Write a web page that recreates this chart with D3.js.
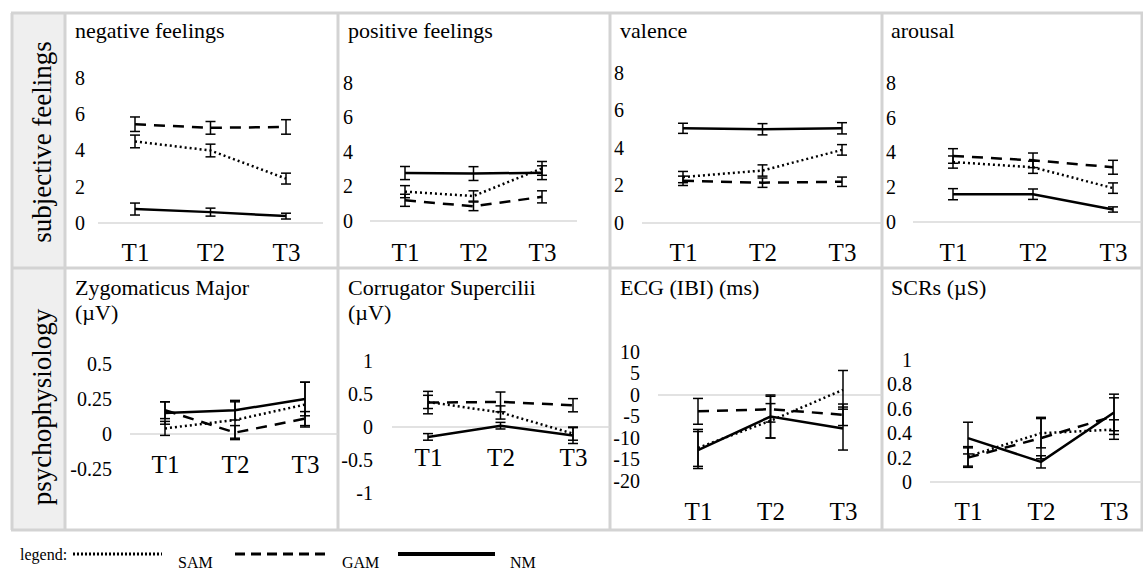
<!DOCTYPE html>
<html>
<head>
<meta charset="utf-8">
<script src="https://cdn.jsdelivr.net/npm/d3@7"></script>
<style>
  body { margin: 0; background: #fff; }
  svg { display: block; }
</style>
</head>
<body>
<div id="chart"></div>
<script>
// ---- data ----
const times = ["T1", "T2", "T3"];
const groups = ["SAM", "GAM", "NM"];
const rowLabels = ["subjective feelings", "psychophysiology"];
const panelTitles = [
  ["negative feelings"], ["positive feelings"], ["valence"], ["arousal"],
  ["Zygomaticus Major", "(\u00b5V)"], ["Corrugator Supercilii", "(\u00b5V)"],
  ["ECG (IBI) (ms)"], ["SCRs (\u00b5S)"]
];

// tick labels
const feelTicks = [0, 2, 4, 6, 8];
const zygTicks = [-0.25, 0, 0.25, 0.5];
const corrTicks = [-1, -0.5, 0, 0.5, 1];
const ecgTicks = [-20, -15, -10, -5, 0, 5, 10];
const scrTicks = [0, 0.2, 0.4, 0.6, 0.8, 1];

// means and error bars, rows = SAM, GAM, NM
const negMean = [[4.5, 4.0, 2.45], [5.45, 5.25, 5.3], [0.77, 0.6, 0.38]];
const negErr  = [[0.35, 0.35, 0.3], [0.4, 0.35, 0.4], [0.33, 0.22, 0.16]];
const posMean = [[1.7, 1.45, 3.05], [1.2, 0.85, 1.4], [2.78, 2.75, 2.8]];
const posErr  = [[0.35, 0.3, 0.4], [0.35, 0.25, 0.35], [0.38, 0.4, 0.4]];
const valMean = [[2.45, 2.8, 3.9], [2.25, 2.15, 2.2], [5.05, 5.0, 5.05]];
const valErr  = [[0.3, 0.3, 0.28], [0.25, 0.25, 0.25], [0.27, 0.3, 0.3]];
const aroMean = [[3.45, 3.15, 1.95], [3.8, 3.55, 3.15], [1.6, 1.6, 0.72]];
const aroErr  = [[0.35, 0.35, 0.3], [0.42, 0.42, 0.4], [0.32, 0.3, 0.15]];
const zygMean = [[0.04, 0.1, 0.21], [0.17, 0.01, 0.11], [0.15, 0.17, 0.25]];
const zygErr  = [[0.05, 0.13, 0.16], [0.06, 0.05, 0.05], [0.08, 0.07, 0.12]];
const corrMean = [[0.38, 0.22, -0.1], [0.37, 0.38, 0.33], [-0.15, 0.02, -0.13]];
const corrErr  = [[0.1, 0.1, 0.1], [0.17, 0.15, 0.1], [0.05, 0.05, 0.12]];
const ecgMean = [[-12.3, -6, 1.2], [-3.8, -3.3, -4.6], [-12.8, -5, -7.8]];
const ecgErr  = [[4.3, 4, 4.5], [3, 3, 2.5], [4.3, 5, 5]];
const scrMean = [[0.21, 0.4, 0.43], [0.2, 0.36, 0.54], [0.36, 0.165, 0.57]];
const scrErr  = [[0.08, 0.12, 0.08], [0.08, 0.17, 0.15], [0.13, 0.05, 0.15]];

const panelData = [
  { mean: negMean, err: negErr, ticks: feelTicks },
  { mean: posMean, err: posErr, ticks: feelTicks },
  { mean: valMean, err: valErr, ticks: feelTicks },
  { mean: aroMean, err: aroErr, ticks: feelTicks },
  { mean: zygMean, err: zygErr, ticks: zygTicks },
  { mean: corrMean, err: corrErr, ticks: corrTicks },
  { mean: ecgMean, err: ecgErr, ticks: ecgTicks },
  { mean: scrMean, err: scrErr, ticks: scrTicks }
];

// ---- layout (pixels) ----
const W = 1143, H = 576;
const FONT = "'Liberation Serif', 'Times New Roman', serif";
const border = "#d3d3d3";
const colX = [65, 338, 610, 882, 1142];
const rowY = [13, 268, 530];
const rowLabelY = [142, 407];

// ax: right edge of tick labels, yb/yt: pixel of first/last tick,
// g0/g1: zero line extent, t1/t3: x of T1/T3, tb: baseline of T labels
const layout = [
  { tx: 75,  ty: 38,  ax: 85,  yb: 223, yt: 78,  g0: 98,  g1: 323,  t1: 135, t3: 286,  tb: 261 },
  { tx: 348, ty: 38,  ax: 353, yb: 221, yt: 83,  g0: 370, g1: 577,  t1: 405, t3: 542,  tb: 261 },
  { tx: 620, ty: 38,  ax: 624, yb: 223, yt: 73,  g0: 642, g1: 882,  t1: 683, t3: 842,  tb: 261 },
  { tx: 891, ty: 38,  ax: 896, yb: 222, yt: 83,  g0: 913, g1: 1142, t1: 953, t3: 1113, tb: 261 },
  { tx: 75,  ty: 295, ax: 112, yb: 469, yt: 364, g0: 130, g1: 338,  t1: 165, t3: 305,  tb: 473 },
  { tx: 348, ty: 295, ax: 373, yb: 493, yt: 361, g0: 392, g1: 610,  t1: 428, t3: 573,  tb: 466 },
  { tx: 620, ty: 295, ax: 640, yb: 481, yt: 352, g0: 658, g1: 882,  t1: 698, t3: 843,  tb: 520 },
  { tx: 891, ty: 295, ax: 912, yb: 482, yt: 360, g0: 930, g1: 1142, t1: 968, t3: 1114, tb: 520 }
];

const groupStyle = {
  SAM: { dash: "2,3", width: 2.5 },
  GAM: { dash: "11,8", width: 2.5 },
  NM:  { dash: null, width: 2.5 }
};

const svg = d3.select("#chart").append("svg")
  .attr("width", W)
  .attr("height", H)
  .style("font-family", FONT);

// ---- table frame ----
svg.append("rect")
  .attr("x", 12).attr("y", rowY[0])
  .attr("width", colX[0] - 12).attr("height", rowY[2] - rowY[0])
  .attr("fill", "#efefef");

rowY.forEach(y => {
  svg.append("line")
    .attr("x1", 11).attr("x2", W).attr("y1", y).attr("y2", y)
    .attr("stroke", border).attr("stroke-width", 3);
});
[12].concat(colX).forEach(x => {
  svg.append("line")
    .attr("x1", x).attr("x2", x).attr("y1", rowY[0]).attr("y2", rowY[2])
    .attr("stroke", border).attr("stroke-width", 3);
});

rowLabels.forEach((t, i) => {
  svg.append("text")
    .attr("transform", `translate(51,${rowLabelY[i]}) rotate(-90)`)
    .attr("text-anchor", "middle")
    .style("font-family", FONT)
    .attr("font-size", 27)
    .text(t);
});

// ---- panels ----
panelData.forEach((p, pi) => {
  const L = layout[pi];
  const g = svg.append("g");

  const x = d3.scalePoint().domain(times).range([L.t1, L.t3]);
  const y = d3.scaleLinear()
    .domain([p.ticks[0], p.ticks[p.ticks.length - 1]])
    .range([L.yb, L.yt]);

  // title
  panelTitles[pi].forEach((line, li) => {
    g.append("text")
      .attr("x", L.tx).attr("y", L.ty + li * 25)
      .style("font-family", FONT)
      .attr("font-size", 22)
      .text(line);
  });

  // zero line
  g.append("line")
    .attr("x1", L.g0).attr("x2", L.g1)
    .attr("y1", y(0)).attr("y2", y(0))
    .attr("stroke", "#d9d9d9").attr("stroke-width", 1.5);

  // y axis labels
  g.append("g")
    .attr("transform", `translate(${L.ax},0)`)
    .call(d3.axisLeft(y).tickValues(p.ticks).tickSize(0).tickPadding(0)
      .tickFormat(d => String(d)))
    .attr("font-family", null).attr("font-size", 20)
    .call(a => a.select(".domain").remove())
    .selectAll("text").attr("fill", "#000").style("font-family", FONT);

  // x axis labels
  g.append("g")
    .attr("transform", `translate(0,${L.tb})`)
    .call(d3.axisBottom(x).tickSize(0).tickPadding(0))
    .attr("font-family", null).attr("font-size", 25)
    .call(a => a.select(".domain").remove())
    .selectAll("text").attr("fill", "#000").attr("y", 0).attr("dy", 0)
    .style("font-family", FONT);

  const line = d3.line()
    .x((d, i) => x(times[i]))
    .y(d => y(d));

  groups.forEach((grp, gi) => {
    const st = groupStyle[grp];
    const means = p.mean[gi];
    const errs = p.err[gi];

    // error bars
    const eb = g.append("g").attr("stroke", "#000").attr("stroke-width", 1.5);
    means.forEach((m, i) => {
      const cx = x(times[i]);
      const top = y(m + errs[i]), bot = y(m - errs[i]);
      eb.append("line").attr("x1", cx).attr("x2", cx).attr("y1", top).attr("y2", bot);
      eb.append("line").attr("x1", cx - 5).attr("x2", cx + 5).attr("y1", top).attr("y2", top);
      eb.append("line").attr("x1", cx - 5).attr("x2", cx + 5).attr("y1", bot).attr("y2", bot);
    });

    g.append("path")
      .datum(means)
      .attr("d", line)
      .attr("fill", "none")
      .attr("stroke", "#000")
      .attr("stroke-width", st.width)
      .attr("stroke-dasharray", st.dash);
  });
});

// ---- legend ----
const legendLines = [
  { grp: "SAM", x1: 73,  x2: 162, tx: 178, dash: "2,2",   w: 3 },
  { grp: "GAM", x1: 235, x2: 330, tx: 342, dash: "10,6",  w: 3 },
  { grp: "NM",  x1: 398, x2: 495, tx: 510, dash: null,    w: 4 }
];
svg.append("text")
  .attr("x", 20).attr("y", 560)
  .style("font-family", FONT)
  .attr("font-size", 16)
  .text("legend:");
legendLines.forEach(d => {
  svg.append("line")
    .attr("x1", d.x1).attr("x2", d.x2).attr("y1", 554).attr("y2", 554)
    .attr("stroke", "#000").attr("stroke-width", d.w)
    .attr("stroke-dasharray", d.dash);
  svg.append("text")
    .attr("x", d.tx).attr("y", 568)
    .style("font-family", FONT)
    .attr("font-size", 16)
    .text(d.grp);
});
</script>
</body>
</html>
